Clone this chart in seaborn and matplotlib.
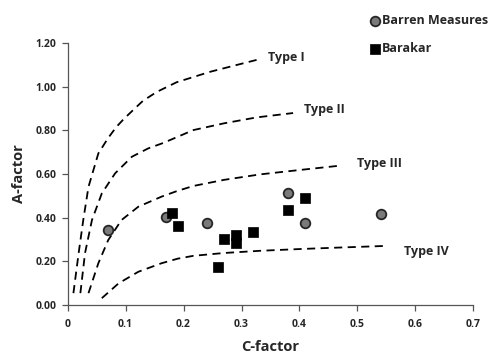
import matplotlib
matplotlib.use("Agg")
import matplotlib.pyplot as plt
import seaborn as sns
import pandas as pd

# Sample data: C-factor vs A-factor
barren_c = [0.07, 0.17, 0.24, 0.38, 0.41, 0.54]
barren_a = [0.345, 0.405, 0.375, 0.515, 0.375, 0.415]

barakar_c = [0.18, 0.19, 0.26, 0.27, 0.29, 0.29, 0.32, 0.38, 0.41]
barakar_a = [0.42, 0.36, 0.175, 0.30, 0.32, 0.285, 0.335, 0.435, 0.49]

# Kerogen type boundary curves
type1_c = [0.010, 0.019, 0.027, 0.036, 0.053, 0.070, 0.084, 0.097, 0.112, 0.130, 0.154, 0.188, 0.246, 0.290, 0.330]
type1_a = [0.054, 0.237, 0.389, 0.541, 0.694, 0.765, 0.815, 0.852, 0.890, 0.935, 0.976, 1.020, 1.068, 1.098, 1.125]

type2_c = [0.022, 0.030, 0.042, 0.059, 0.082, 0.111, 0.139, 0.165, 0.217, 0.270, 0.326, 0.389]
type2_a = [0.054, 0.237, 0.389, 0.511, 0.603, 0.679, 0.717, 0.742, 0.801, 0.832, 0.859, 0.879]

type3_c = [0.036, 0.053, 0.070, 0.093, 0.122, 0.162, 0.188, 0.217, 0.270, 0.332, 0.400, 0.470]
type3_a = [0.054, 0.191, 0.297, 0.389, 0.450, 0.496, 0.521, 0.545, 0.573, 0.598, 0.618, 0.638]

type4_c = [0.059, 0.088, 0.122, 0.162, 0.190, 0.217, 0.270, 0.332, 0.400, 0.470, 0.545]
type4_a = [0.031, 0.099, 0.152, 0.191, 0.212, 0.225, 0.238, 0.248, 0.256, 0.263, 0.270]

curves = [
    ("Type I", type1_c, type1_a, (0.345, 1.135)),
    ("Type II", type2_c, type2_a, (0.408, 0.895)),
    ("Type III", type3_c, type3_a, (0.500, 0.650)),
    ("Type IV", type4_c, type4_a, (0.580, 0.245)),
]

sns.set_theme(style="white")
plt.rcParams["font.family"] = ["Open Sans", "DejaVu Sans"]

fig = plt.figure(figsize=(4.9, 3.55), dpi=100)
ax = fig.add_axes([0.138, 0.141, 0.828, 0.738])

for name, cx, ay, (lx, ly) in curves:
    df = pd.DataFrame({"C": cx, "A": ay})
    sns.lineplot(data=df, x="C", y="A", ax=ax, sort=False, color="black",
                 lw=1.3, linestyle=(0, (4.5, 3)), legend=False)
    ax.text(lx, ly, name, fontsize=9, fontweight="bold", ha="left", va="center")

sns.scatterplot(x=barren_c, y=barren_a, ax=ax, marker="o", s=48,
                color="#7a7a7a", edgecolor="#262626", linewidth=1.3,
                label="Barren Measures", zorder=5)
sns.scatterplot(x=barakar_c, y=barakar_a, ax=ax, marker="s", s=50,
                color="black", edgecolor="black", linewidth=0.5,
                label="Barakar", zorder=5)

ax.set_xlim(0, 0.7)
ax.set_ylim(0, 1.2)
ax.set_xticks([0, 0.1, 0.2, 0.3, 0.4, 0.5, 0.6, 0.7])
ax.set_xticklabels(["0", "0.1", "0.2", "0.3", "0.4", "0.5", "0.6", "0.7"])
ax.set_yticks([0, 0.2, 0.4, 0.6, 0.8, 1.0, 1.2])
ax.set_yticklabels([f"{v:.2f}" for v in [0, 0.2, 0.4, 0.6, 0.8, 1.0, 1.2]])
ax.tick_params(axis="both", labelsize=7.5, length=4, width=0.9, color="#555555",
               direction="out", bottom=True, left=True)
ax.tick_params(axis="x", pad=6)
ax.tick_params(axis="y", pad=4)
for lbl in ax.get_xticklabels() + ax.get_yticklabels():
    lbl.set_fontweight("bold")

ax.set_xlabel("C-factor", fontsize=10.5, fontweight="bold", labelpad=7)
ax.set_ylabel("A-factor", fontsize=10.5, fontweight="bold", labelpad=7)

for side in ("top", "right"):
    ax.spines[side].set_visible(False)
for side in ("left", "bottom"):
    ax.spines[side].set_color("#555555")
    ax.spines[side].set_linewidth(0.9)

handles, labels = ax.get_legend_handles_labels()
if ax.legend_:
    ax.legend_.remove()
leg = fig.legend(handles, labels, loc="upper left", bbox_to_anchor=(0.752, 0.96),
                 frameon=False, fontsize=9, handletextpad=0.05, labelspacing=1.2,
                 borderaxespad=0, handlelength=1.0, borderpad=0)
for t in leg.get_texts():
    t.set_fontweight("bold")

fig.savefig("out.png", dpi=100)
